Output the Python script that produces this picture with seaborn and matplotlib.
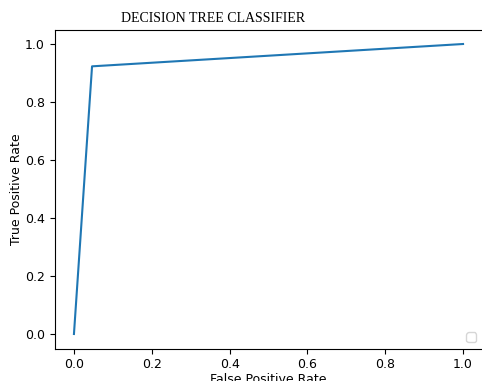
import matplotlib
matplotlib.use("Agg")
import matplotlib.pyplot as plt
import seaborn as sns
import pandas as pd

fpr = [0.0, 0.0465, 1.0]
tpr = [0.0, 0.923, 1.0]
title = "DECISION TREE CLASSIFIER"
xlabel = "False Positive Rate"
ylabel = "True Positive Rate"

df = pd.DataFrame({"fpr": fpr, "tpr": tpr})

plt.rcParams["font.size"] = 9

W, H = 482, 381
fig = plt.figure(figsize=(W / 100, H / 100), dpi=100)
left, right, top, bottom = 54.5, 482.5, 29.5, 348.5
ax = fig.add_axes([left / W, 1 - bottom / H, (right - left) / W, (bottom - top) / H])

sns.lineplot(data=df, x="fpr", y="tpr", ax=ax, color="#1f77b4", linewidth=1.5)
ax.set_xlabel(xlabel, fontsize=9, labelpad=1)
ax.set_ylabel(ylabel, fontsize=9, labelpad=1)
ax.tick_params(labelsize=9)
ax.set_xlim(-0.05, 1.05)
ax.set_ylim(-0.05, 1.05)
ax.legend(loc="lower right")

fig.text(213 / W, 1 - 22.5 / H, title, ha="center", va="baseline",
         family=["Liberation Serif", "DejaVu Serif"], fontsize=10)

fig.savefig("out.png", dpi=100)
